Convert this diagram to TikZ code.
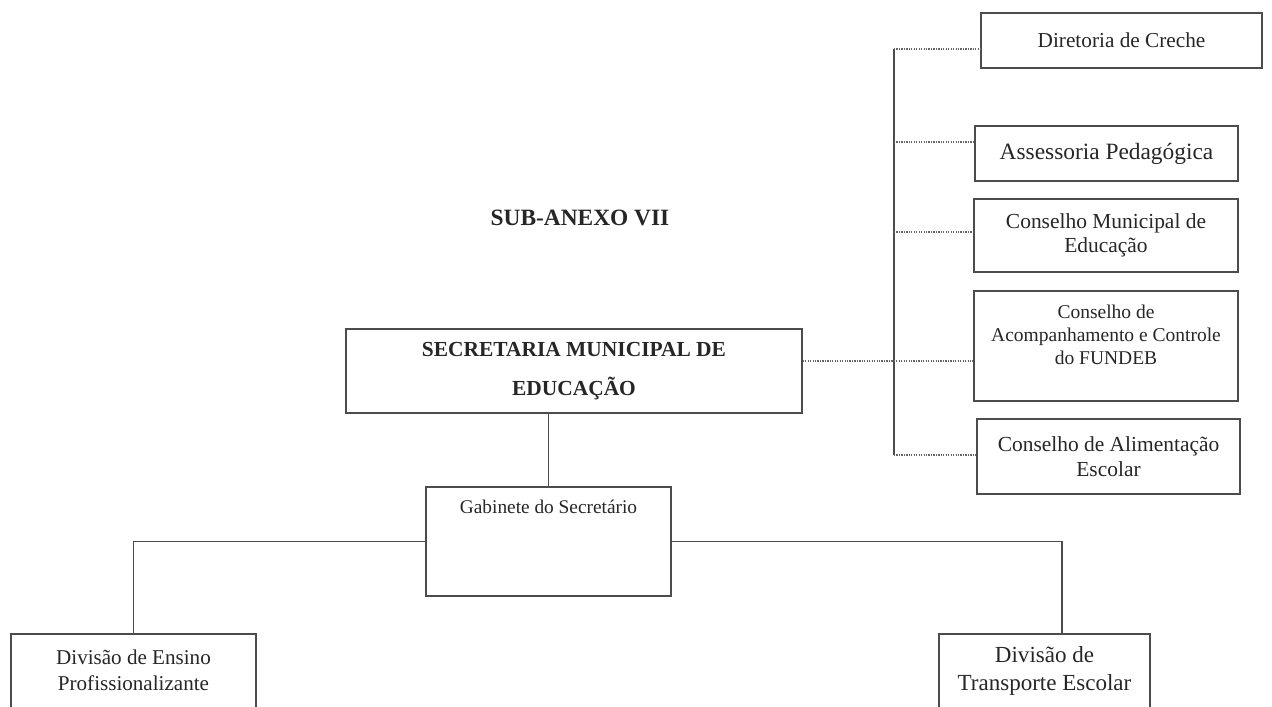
\documentclass[tikz,border=0pt]{standalone}
\usepackage{fontspec}
\setmainfont{Liberation Serif}

\begin{document}
\begin{tikzpicture}[every node/.style={text=black!85},
  orgbox/.style={draw=black!70, line width=0.8pt, rectangle, inner sep=2pt, align=center},
  solidlink/.style={draw=black!70, line width=0.8pt},
  dotlink/.style={draw=black!60, line width=0.7pt, dash pattern=on 0.7pt off 0.7pt}]
\useasboundingbox (0,0) rectangle (25.44,14.12);
\clip (0,0) rectangle (25.44,14.12);

\node[font={\fontsize{13.3}{15}\selectfont\bfseries}] (title) at (11.6,9.76) {SUB-ANEXO VII};

\node[orgbox, minimum width=9.12cm, minimum height=1.68cm,
  font={\fontsize{12.2}{22.2}\selectfont\bfseries}] (sec) at (11.48,6.70)
  {SECRETARIA MUNICIPAL DE\\EDUCAÇÃO};

\node[orgbox, minimum width=4.9cm, minimum height=2.18cm] (gab) at (10.97,3.29) {};
\node[font={\fontsize{11}{13}\selectfont}] (gabtxt) at (10.97,3.98) {Gabinete do Secretário};

\node[orgbox, minimum width=4.9cm, minimum height=2.0cm] (ens) at (2.67,0.44) {};
\node[align=center, font={\fontsize{12}{14.8}\selectfont}] (enstxt) at (2.67,0.72)
  {Divisão de Ensino\\Profissionalizante};

\node[orgbox, minimum width=4.22cm, minimum height=2.0cm] (tra) at (20.89,0.44) {};
\node[align=center, font={\fontsize{13.1}{15.9}\selectfont}] (tratxt) at (20.89,0.70)
  {Divisão de\\Transporte Escolar};

\node[orgbox, minimum width=5.62cm, minimum height=1.1cm,
  font={\fontsize{12.1}{14}\selectfont}] (dir) at (22.43,13.31) {Diretoria de Creche};
\node[orgbox, minimum width=5.26cm, minimum height=1.1cm,
  font={\fontsize{13.3}{15}\selectfont}] (ass) at (22.13,11.05) {Assessoria Pedagógica};
\node[orgbox, minimum width=5.28cm, minimum height=1.46cm,
  font={\fontsize{12.2}{13.7}\selectfont}] (cme) at (22.12,9.41) {Conselho Municipal de\\Educação};
\node[orgbox, minimum width=5.28cm, minimum height=2.2cm] (fun) at (22.12,7.20) {};
\node[align=center, font={\fontsize{11.1}{13.1}\selectfont}] (funtxt) at (22.12,7.42)
  {Conselho de\\Acompanhamento e Controle\\do FUNDEB};
\node[orgbox, minimum width=5.26cm, minimum height=1.5cm,
  font={\fontsize{12.2}{14.2}\selectfont}] (alim) at (22.17,4.99) {Conselho de Alimentação\\Escolar};

\coordinate (b1) at (17.88,13.14);
\coordinate (b2) at (17.88,11.28);
\coordinate (b3) at (17.88,9.48);
\coordinate (b4) at (17.88,6.90);
\coordinate (b5) at (17.88,5.02);
\coordinate (trtop) at (21.24,1.44);

\draw[solidlink] (b1) -- (b5);
\draw[dotlink] (b1) -- (b1 -| dir.west);
\draw[dotlink] (b2) -- (b2 -| ass.west);
\draw[dotlink] (b3) -- (b3 -| cme.west);
\draw[dotlink] (b4 -| sec.east) -- (b4 -| fun.west);
\draw[dotlink] (b5) -- (b5 -| alim.west);

\draw[solidlink] (gab.north) -- (gab.north |- sec.south);
\draw[solidlink] (gab.west) -| (ens.north);
\draw[solidlink] (gab.east) -| (trtop);
\end{tikzpicture}
\end{document}
